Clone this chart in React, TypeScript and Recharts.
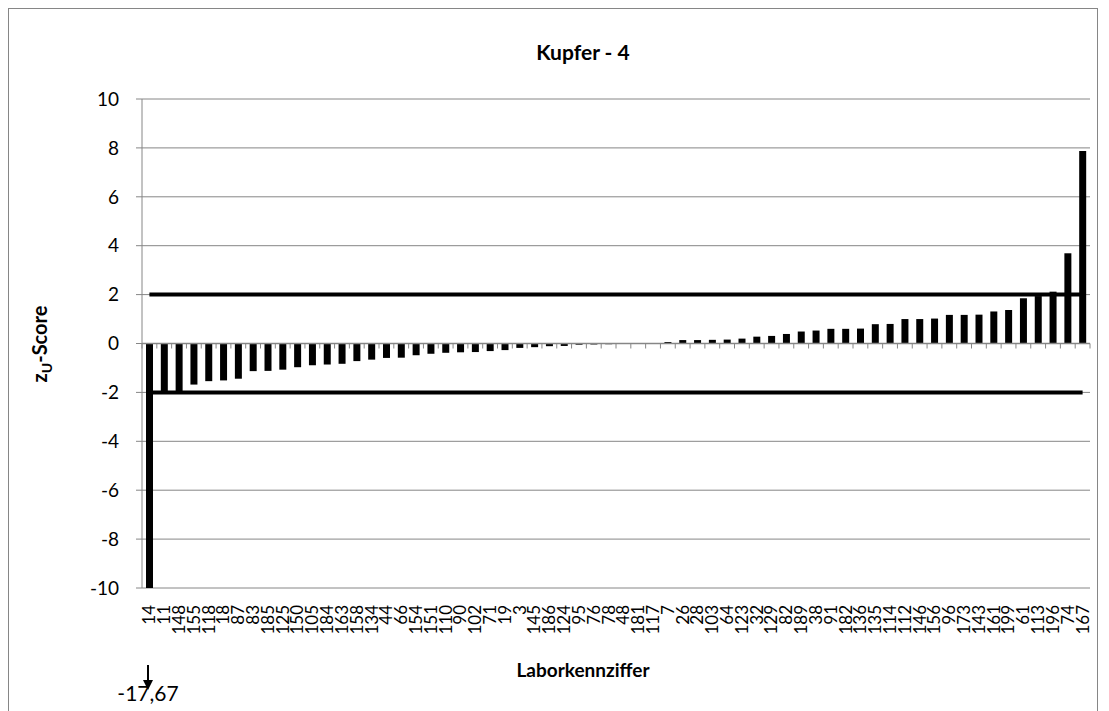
import { ComposedChart, Bar, Line, XAxis, YAxis, CartesianGrid, ReferenceLine } from 'recharts'

// lab codes, sorted by z-score
const labCodes = [
  '14', '11', '148', '155', '118', '18', '87', '83', '185', '125', '150', '105', '184', '163', '158', '134',
  '44', '66', '154', '151', '110', '90', '102', '71', '19', '3', '145', '186', '124', '95', '76', '78',
  '48', '181', '117', '7', '26', '28', '103', '64', '123', '32', '129', '82', '189', '38', '91', '182',
  '136', '135', '114', '112', '146', '156', '96', '173', '143', '161', '199', '61', '113', '196', '74', '167',
]

const zScores = [
  -17.67, -1.97, -1.95, -1.68, -1.54, -1.51, -1.44, -1.13, -1.12, -1.07, -0.97, -0.89, -0.86, -0.83, -0.72, -0.66,
  -0.59, -0.58, -0.48, -0.42, -0.38, -0.36, -0.35, -0.31, -0.27, -0.18, -0.15, -0.11, -0.1, -0.05, -0.04, -0.03,
  -0.01, 0, 0.01, 0.06, 0.14, 0.14, 0.15, 0.16, 0.2, 0.28, 0.31, 0.39, 0.49, 0.53, 0.6, 0.6,
  0.61, 0.79, 0.8, 1.0, 1.0, 1.02, 1.17, 1.17, 1.18, 1.31, 1.37, 1.85, 1.94, 2.12, 3.69, 7.87,
]

const upperLimit = 2
const lowerLimit = -2
const yTicks = [-10, -8, -6, -4, -2, 0, 2, 4, 6, 8, 10]

const gridColor = '#868686'
const fontFamily = 'Lato, "Liberation Sans", sans-serif'

const chartData = labCodes.map((lab, i) => ({
  lab,
  z: zScores[i],
  upper: upperLimit,
  lower: lowerLimit,
}))

function LabTick({ x, y, payload }: any) {
  const ty = y + 9
  return (
    <text
      x={x}
      y={ty}
      transform={`rotate(-90, ${x}, ${ty})`}
      textAnchor="end"
      dy="0.35em"
      fontSize={17}
      fontFamily={fontFamily}
      fill="#000"
    >
      {payload.value}
    </text>
  )
}

// zero line with tick marks between the categories (like the category axis in the original)
function ZeroAxis(props: any) {
  const { x1, x2, y1 } = props
  const n = labCodes.length
  const step = (x2 - x1) / n
  const marks = []
  for (let i = 0; i <= n; i++) {
    const tx = x1 + i * step
    marks.push(<line key={i} x1={tx} x2={tx} y1={y1} y2={y1 + 5} stroke={gridColor} strokeWidth={1} />)
  }
  return (
    <g>
      <line x1={x1} x2={x2} y1={y1} y2={y1} stroke={gridColor} strokeWidth={1.5} />
      {marks}
    </g>
  )
}

export default function App() {
  return (
    <div style={{ position: 'relative', width: 1101, height: 703, fontFamily }}>
      <div
        style={{
          position: 'absolute',
          left: 0,
          top: 0,
          width: 1090,
          height: 720,
          border: `1px solid ${gridColor}`,
          boxSizing: 'border-box',
        }}
      />
      <div
        style={{
          position: 'absolute',
          left: 425,
          top: 31,
          width: 300,
          textAlign: 'center',
          fontSize: 21,
          fontWeight: 700,
          lineHeight: '26px',
        }}
      >
        Kupfer - 4
      </div>
      <div style={{ position: 'absolute', top: 0, left: 0 }}>
        <ComposedChart
          width={1092}
          height={703}
          data={chartData}
          margin={{ top: 91, right: 10, left: 0, bottom: 63 }}
          barCategoryGap={0}
        >
          <CartesianGrid vertical={false} stroke={gridColor} />
          <XAxis
            dataKey="lab"
            interval={0}
            tick={<LabTick />}
            tickLine={false}
            axisLine={false}
            height={60}
          />
          <YAxis
            domain={[-10, 10]}
            ticks={yTicks}
            allowDataOverflow
            width={134}
            tick={{ fontSize: 19, fill: '#000', fontFamily }}
            tickSize={6}
            tickMargin={17}
            tickLine={{ stroke: gridColor }}
            axisLine={{ stroke: gridColor }}
          />
          <ReferenceLine y={0} shape={<ZeroAxis />} />
          <Bar dataKey="z" fill="#000" barSize={7} isAnimationActive={false} />
          <Line dataKey="upper" type="linear" stroke="#000" strokeWidth={4} dot={false} activeDot={false} isAnimationActive={false} />
          <Line dataKey="lower" type="linear" stroke="#000" strokeWidth={4} dot={false} activeDot={false} isAnimationActive={false} />
        </ComposedChart>
      </div>
      <div
        style={{
          position: 'absolute',
          left: 425,
          top: 650,
          width: 300,
          textAlign: 'center',
          fontSize: 19,
          fontWeight: 700,
          lineHeight: '24px',
        }}
      >
        Laborkennziffer
      </div>
      <svg width={1101} height={703} style={{ position: 'absolute', left: 0, top: 0, pointerEvents: 'none' }}>
        <text
          x={32}
          y={336}
          transform="rotate(-90, 32, 336)"
          textAnchor="middle"
          dy="0.35em"
          fontSize={20}
          fontWeight={700}
          fontFamily={fontFamily}
          fill="#000"
        >
          z<tspan fontSize={14} dy={5}>U</tspan>
          <tspan dy={-5}>-Score</tspan>
        </text>
        <line x1={140} y1={657} x2={140} y2={674} stroke="#000" strokeWidth={2} />
        <polygon points="135,672 145,672 140,682" fill="#000" />
        <text x={140} y={693} textAnchor="middle" fontSize={21} fontFamily={fontFamily} fill="#000">
          -17,67
        </text>
      </svg>
    </div>
  )
}
